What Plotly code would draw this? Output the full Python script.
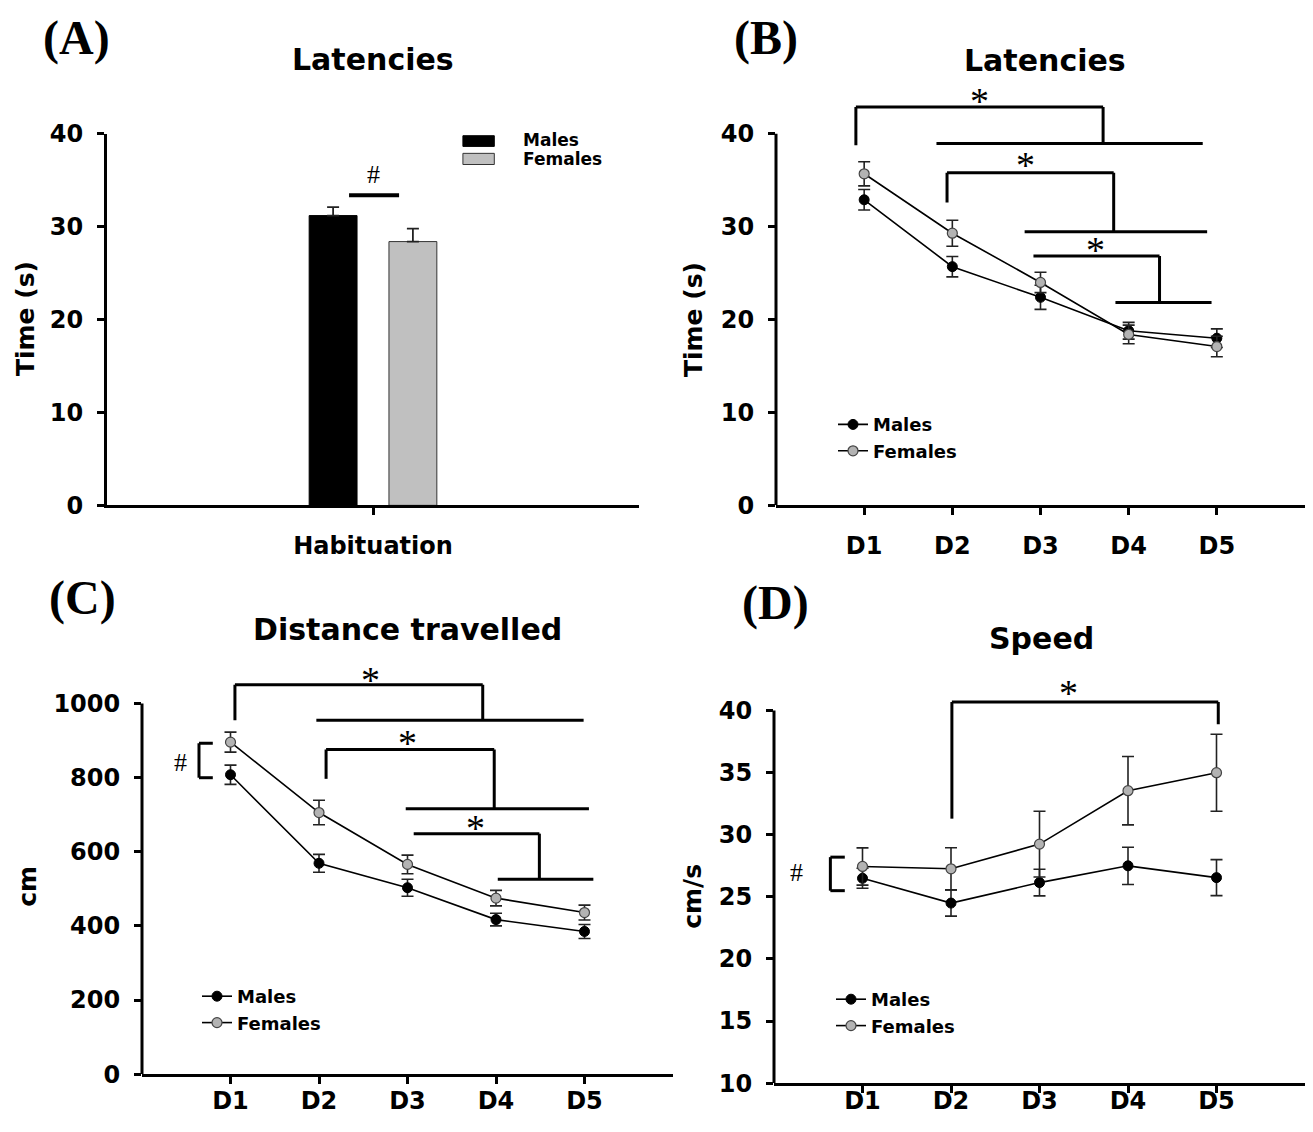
import plotly.graph_objects as go

# Figure size chosen so that the page (with the default 8px body margin) fits the window.
W, H = 1297, 1116
# measured mapping from figure pixels to the photographed picture
OFF_X = 8.0
OFF_Y, SCALE_Y = 22.3, 0.9736

# ---------------- data ----------------
days = ["D1", "D2", "D3", "D4", "D5"]
day_pos = [1, 2, 3, 4, 5]
groups = ["Males", "Females"]

# (A) Latencies, habituation
hab_cat = ["Habituation"]
hab_males = [31.2]
hab_males_err = [0.9]
hab_females = [28.4]
hab_females_err = [1.4]

# (B) Latencies (s)
lat_males = [32.9, 25.7, 22.4, 18.8, 18.0]
lat_males_err = [1.1, 1.1, 1.3, 0.9, 1.0]
lat_females = [35.7, 29.3, 24.0, 18.4, 17.1]
lat_females_err = [1.3, 1.4, 1.1, 1.0, 1.1]

# (C) Distance travelled (cm)
dist_males = [808, 569, 503, 417, 385]
dist_males_err = [26, 24, 23, 17, 19]
dist_females = [896, 706, 566, 475, 436]
dist_females_err = [27, 33, 25, 21, 20]

# (D) Speed (cm/s)
speed_males = [26.5, 24.5, 26.15, 27.5, 26.55]
speed_males_err = [0.8, 1.05, 1.07, 1.5, 1.45]
speed_females = [27.45, 27.26, 29.25, 33.55, 35.0]
speed_females_err = [1.5, 1.7, 2.65, 2.75, 3.1]

# ---------------- styles ----------------
SANS = "DejaVu Sans"
SERIF = "Liberation Serif"
FEM_COLOR = "#b3b3b3"


def px_x(p):
    return min(1.0, max(0.0, (p - OFF_X) / W))


def px_y(p):
    fy = (p - OFF_Y) / SCALE_Y
    return min(1.0, max(0.0, 1 - fy / H))


fig = go.Figure()

# ---- panel A bars ----
fig.add_trace(go.Bar(x=hab_cat, y=hab_males, name=groups[0],
                     marker=dict(color="black", line=dict(color="black", width=1)),
                     error_y=dict(type="data", array=hab_males_err, symmetric=False,
                                  arrayminus=[0], color="#222", thickness=1.8, width=6),
                     showlegend=False, xaxis="x", yaxis="y"))
fig.add_trace(go.Bar(x=hab_cat, y=hab_females, name=groups[1],
                     marker=dict(color="#c0c0c0", line=dict(color="#333", width=1)),
                     error_y=dict(type="data", array=hab_females_err, symmetric=False,
                                  arrayminus=[0], color="#222", thickness=1.8, width=6),
                     showlegend=False, xaxis="x", yaxis="y"))


def line_pair(males, merr, females, ferr, xa, ya, leg):
    fig.add_trace(go.Scatter(x=day_pos, y=males, name=groups[0], mode="lines+markers",
                             line=dict(color="black", width=1.6),
                             marker=dict(color="black", size=10, line=dict(color="black", width=1)),
                             error_y=dict(type="data", array=merr, color="#222", thickness=1.6, width=6),
                             xaxis=xa, yaxis=ya, legend=leg))
    fig.add_trace(go.Scatter(x=day_pos, y=females, name=groups[1], mode="lines+markers",
                             line=dict(color="black", width=1.6),
                             marker=dict(color=FEM_COLOR, size=10, line=dict(color="#444", width=1.2)),
                             error_y=dict(type="data", array=ferr, color="#222", thickness=1.6, width=6),
                             xaxis=xa, yaxis=ya, legend=leg))


line_pair(lat_males, lat_males_err, lat_females, lat_females_err, "x2", "y2", "legend")
line_pair(dist_males, dist_males_err, dist_females, dist_females_err, "x3", "y3", "legend2")
line_pair(speed_males, speed_males_err, speed_females, speed_females_err, "x4", "y4", "legend3")

tickfont = dict(family=SANS, size=24, color="black", weight="bold")


def xaxis_cfg(d0, d1, standoff=2, **kw):
    base = dict(domain=[px_x(d0), px_x(d1)], showline=True, linewidth=3, linecolor="black",
                ticks="outside", ticklen=7, tickwidth=2.5, tickcolor="black",
                tickfont=tickfont, showgrid=False, zeroline=False, ticklabelstandoff=standoff,
                fixedrange=True)
    base.update(kw)
    return base


def yaxis_cfg(top, bottom, showline, **kw):
    base = dict(domain=[px_y(bottom), px_y(top)], showline=showline, linewidth=3, linecolor="black",
                ticks="outside", ticklen=7, tickwidth=2.5, tickcolor="black",
                tickfont=tickfont, showgrid=False, zeroline=False, ticklabelstandoff=9,
                fixedrange=True)
    base.update(kw)
    return base


day_ticks = dict(tickmode="array", tickvals=day_pos, ticktext=days)

layout = dict(
    width=W, height=H, margin=dict(l=0, r=0, t=0, b=0),
    paper_bgcolor="white", plot_bgcolor="white",
    barmode="group", bargap=0.7, bargroupgap=0.4,
    xaxis=xaxis_cfg(107, 639, standoff=10, type="category", range=[-0.5, 0.5]),
    yaxis=yaxis_cfg(134, 505, True, range=[0, 40], tickvals=[0, 10, 20, 30, 40]),
    xaxis2=xaxis_cfg(776, 1311, standoff=10, range=[0, 6], anchor="y2", **day_ticks),
    yaxis2=yaxis_cfg(505 - 45 * 9.275, 505, False, range=[0, 45],
                     tickvals=[0, 10, 20, 30, 40], anchor="x2"),
    xaxis3=xaxis_cfg(142, 673, standoff=-4, range=[0, 6], anchor="y3", **day_ticks),
    yaxis3=yaxis_cfg(1073 - 1095 * 0.37, 1073, False, range=[0, 1095],
                     tickvals=[0, 200, 400, 600, 800, 1000], anchor="x3"),
    xaxis4=xaxis_cfg(774, 1307, standoff=-13, range=[0, 6], anchor="y4", **day_ticks),
    yaxis4=yaxis_cfg(1082 - 32.6 * 12.4, 1082, False, range=[10, 42.6],
                     tickvals=[10, 15, 20, 25, 30, 35, 40], anchor="x4"),
)

legfont = dict(family=SANS, size=18, color="black", weight="bold")
for name, lx, ly in [("legend", 833, 406), ("legend2", 197, 977), ("legend3", 831, 980)]:
    layout[name] = dict(x=px_x(lx), y=px_y(ly), xanchor="left", yanchor="top",
                        bgcolor="rgba(0,0,0,0)", font=legfont, tracegroupgap=0,
                        traceorder="normal")

fig.update_layout(**layout)

shapes = []
annotations = []


def seg(xr, yr, pts, w=3):
    for (x0, y0), (x1, y1) in zip(pts[:-1], pts[1:]):
        shapes.append(dict(type="line", xref=xr, yref=yr, x0=x0, y0=y0, x1=x1, y1=y1,
                           line=dict(color="black", width=w)))


def text(xr, yr, x, y, s, size, family=SERIF, bold=False, yshift=0, xanchor="center", **kw):
    f = dict(family=family, size=size, color="black")
    if bold:
        f["weight"] = "bold"
    annotations.append(dict(xref=xr, yref=yr, x=x, y=y, text=s, showarrow=False,
                            font=f, yshift=yshift, xanchor=xanchor, yanchor="middle", **kw))


# visible y-axis lines for B, C, D (axis ranges leave room above for brackets)
for xr, yr, y0, y1 in [("x2 domain", "y2", 0, 40), ("x3 domain", "y3", 0, 1000), ("x4 domain", "y4", 10, 40)]:
    shapes.append(dict(type="line", xref=xr, yref=yr, x0=0, x1=0, y0=y0, y1=y1,
                       line=dict(color="black", width=3)))

# ---- panel A annotations ----
seg("x", "y", [(-0.045, 33.4), (0.049, 33.4)], w=4)
text("x", "y", 0.0, 35.6, "#", 26)
shapes.append(dict(type="rect", xref="x", yref="y", x0=0.169, x1=0.228, y0=38.65, y1=39.8,
                   fillcolor="black", line=dict(color="black", width=1)))
shapes.append(dict(type="rect", xref="x", yref="y", x0=0.169, x1=0.228, y0=36.7, y1=37.9,
                   fillcolor="#c0c0c0", line=dict(color="#333", width=1)))
text("x", "y", 0.278, 39.3, "Males", 17, family=SANS, bold=True, xanchor="left")
text("x", "y", 0.278, 37.3, "Females", 17, family=SANS, bold=True, xanchor="left")

STAR = 38
STAR_SHIFT = -6
# ---- panel B brackets ----
seg("x2", "y2", [(0.906, 38.77), (0.906, 42.9), (3.71, 42.9), (3.71, 38.96)])
seg("x2", "y2", [(1.82, 38.96), (4.84, 38.96)])
text("x2", "y2", 2.31, 44.15, "*", STAR, yshift=STAR_SHIFT)
seg("x2", "y2", [(1.94, 32.6), (1.94, 35.8), (3.83, 35.8), (3.83, 29.46)])
seg("x2", "y2", [(2.82, 29.46), (4.89, 29.46)])
text("x2", "y2", 2.83, 37.3, "*", STAR, yshift=STAR_SHIFT)
seg("x2", "y2", [(2.92, 26.85), (4.35, 26.85), (4.35, 21.85)])
seg("x2", "y2", [(3.85, 21.85), (4.94, 21.85)])
text("x2", "y2", 3.62, 28.1, "*", STAR, yshift=STAR_SHIFT)

# ---- panel C brackets ----
seg("x3", "y3", [(1.05, 955), (1.05, 1051), (3.85, 1051), (3.85, 958)])
seg("x3", "y3", [(1.97, 955), (4.99, 955)])
text("x3", "y3", 2.58, 1080, "*", STAR, yshift=STAR_SHIFT)
seg("x3", "y3", [(2.08, 797), (2.08, 876), (3.98, 876), (3.98, 716)])
seg("x3", "y3", [(2.98, 716), (5.05, 716)])
text("x3", "y3", 3.0, 911, "*", STAR, yshift=STAR_SHIFT)
seg("x3", "y3", [(3.07, 649), (4.49, 649), (4.49, 526)])
seg("x3", "y3", [(4.02, 526), (5.1, 526)])
text("x3", "y3", 3.77, 680, "*", STAR, yshift=STAR_SHIFT)
seg("x3", "y3", [(0.80, 893), (0.644, 893), (0.644, 800), (0.80, 800)])
text("x3", "y3", 0.43, 840, "#", 26)

# ---- panel D brackets ----
seg("x4", "y4", [(2.01, 31.3), (2.01, 40.7), (5.02, 40.7), (5.02, 38.9)])
text("x4", "y4", 3.33, 41.9, "*", STAR, yshift=STAR_SHIFT)
seg("x4", "y4", [(0.8, 28.2), (0.637, 28.2), (0.637, 25.5), (0.8, 25.5)])
text("x4", "y4", 0.25, 27.0, "#", 26)

# ---- titles, panel labels, axis titles ----
for x, y, s in [(373, 60, "Latencies"), (1045, 61, "Latencies"),
                (407, 629, "Distance travelled"), (1041, 638, "Speed")]:
    text("paper", "paper", px_x(x), px_y(y), s, 30, family=SANS, bold=True)
for x, y, s in [(76, 38, "(A)"), (766, 38, "(B)"), (82, 598, "(C)"), (775, 603, "(D)")]:
    text("paper", "paper", px_x(x), px_y(y), s, 48, family=SERIF, bold=True)
for x, y, s in [(25, 319, "Time (s)"), (693, 319, "Time (s)"), (28, 886, "cm"), (693, 895, "cm/s")]:
    text("paper", "paper", px_x(x), px_y(y), s, 25, family=SANS, bold=True, textangle=-90)

fig.update_layout(shapes=shapes, annotations=annotations)

fig.write_html("out.html")
